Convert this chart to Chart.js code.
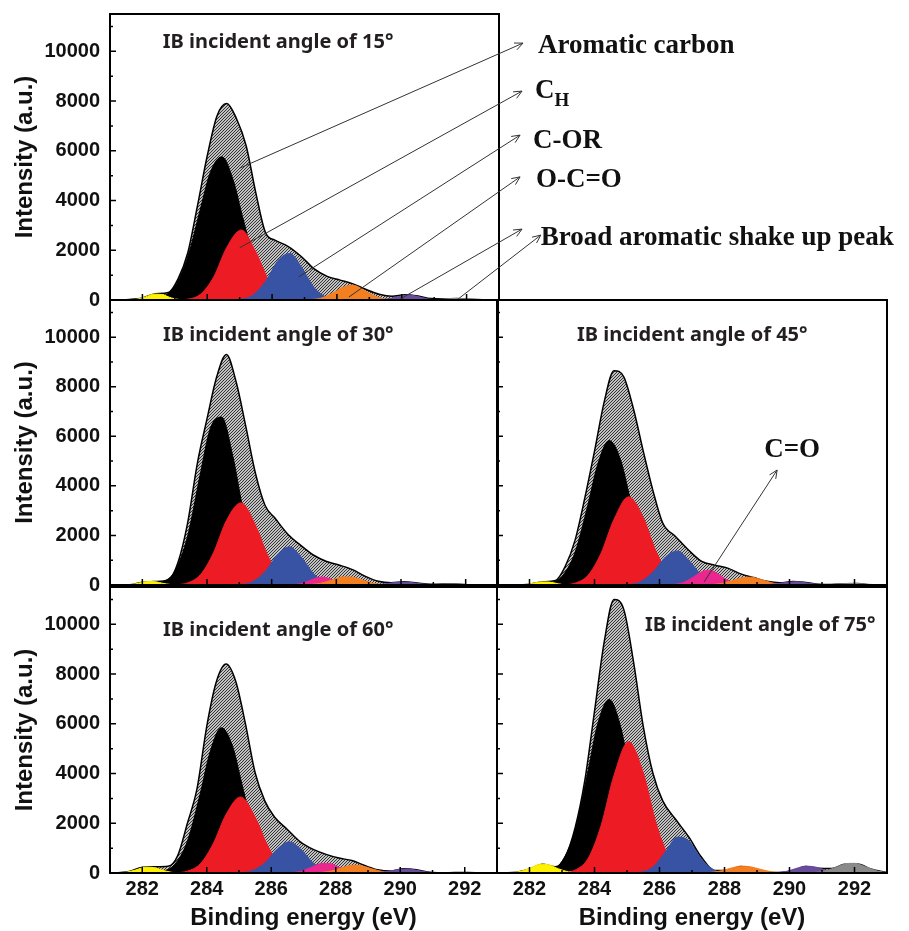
<!DOCTYPE html>
<html>
<head>
<meta charset="utf-8">
<script src="https://cdn.jsdelivr.net/npm/chart.js@4.4.1/dist/chart.umd.min.js"></script>
<style>
  html, body { margin: 0; padding: 0; background: #fff; }
  #page { position: relative; width: 909px; height: 931px; overflow: hidden; background: #fff; }
  canvas { position: absolute; }
</style>
</head>
<body>
<div id="page">
  <canvas id="p15" width="909" height="315" style="left:0;top:0"></canvas>
  <canvas id="p30" width="505" height="305" style="left:0;top:298px"></canvas>
  <canvas id="p45" width="400" height="305" style="left:490px;top:298px"></canvas>
  <canvas id="p60" width="505" height="347" style="left:0;top:584px"></canvas>
  <canvas id="p75" width="400" height="347" style="left:490px;top:584px"></canvas>
</div>
<script>
// tick labels
const energyTicks = [282, 284, 286, 288, 290, 292];
const intensityTicks = [0, 2000, 4000, 6000, 8000, 10000];

// one entry per panel, in this order
const angles = [15, 30, 45, 60, 75];

// fitted envelope (hatched)
const envelopeE = [281.2, 281.6, 282.0, 282.4, 282.8, 283.1, 283.4, 283.7, 284.0, 284.3, 284.6, 284.9, 285.2, 285.5, 285.8, 286.1,
                   286.5, 286.9, 287.3, 287.7, 288.1, 288.5, 288.9, 289.3, 289.7, 290.1, 290.5, 290.9, 291.3, 291.7, 292.1, 292.5, 293.0];
const envelopeI = [
  [0, 20, 80, 250, 300, 850, 1900, 3800, 5800, 7400, 7900, 7300, 6200, 4300, 2700, 2400, 2150, 1750, 1250, 950, 800, 650, 420, 230, 150, 210, 160, 60, 50, 60, 30, 10, 0],
  [0, 10, 110, 140, 200, 900, 2500, 4900, 6700, 8400, 9300, 8200, 6400, 4500, 3200, 2700, 2050, 1600, 1200, 950, 800, 620, 350, 150, 90, 130, 80, 30, 40, 40, 10, 0, 0],
  [0, 0, 30, 130, 180, 750, 1800, 3500, 5400, 7400, 8650, 8400, 7100, 5400, 3800, 2500, 1950, 1400, 950, 800, 680, 450, 300, 150, 90, 140, 100, 30, 20, 50, 60, 10, 0],
  [0, 60, 230, 250, 270, 700, 2000, 3400, 5900, 7700, 8400, 7700, 6000, 4030, 2900, 2250, 1750, 1250, 950, 750, 600, 500, 300, 130, 80, 170, 130, 30, 10, 20, 20, 5, 0],
  [0, 30, 160, 350, 250, 650, 1800, 3700, 6500, 9300, 11000, 10600, 8500, 5900, 4000, 2900, 2150, 1450, 620, 100, 100, 260, 180, 30, 20, 90, 260, 190, 180, 350, 360, 160, 20]
];

// aromatic carbon (black)
const aromaticE = [282.3, 282.6, 283.0, 283.4, 283.8, 284.1, 284.45, 284.8, 285.1, 285.5, 285.9, 286.3, 286.7];
const aromaticI = [
  [0, 120, 550, 1740, 3720, 5150, 5760, 4820, 3290, 1410, 415, 85, 0],
  [0, 100, 550, 1970, 4520, 6310, 6780, 5190, 3150, 1090, 245, 35, 0],
  [0, 60, 350, 1310, 3250, 4870, 5830, 5060, 3470, 1470, 410, 75, 0],
  [0, 55, 340, 1280, 3200, 4850, 5840, 5100, 3520, 1500, 420, 80, 0],
  [0, 85, 470, 1700, 4100, 6000, 6980, 5900, 3980, 1620, 440, 80, 0]
];

// C_H (red)
const chE = [283.0, 283.4, 283.8, 284.2, 284.6, 285.05, 285.5, 285.9, 286.3, 286.7, 287.1];
const chI = [
  [0, 35, 240, 930, 2110, 2815, 1930, 780, 190, 25, 0],
  [0, 85, 420, 1300, 2600, 3315, 2410, 1130, 340, 65, 0],
  [0, 75, 390, 1280, 2650, 3560, 2720, 1340, 420, 85, 0],
  [0, 75, 370, 1180, 2360, 3060, 2250, 1070, 325, 65, 0],
  [0, 115, 580, 1900, 3930, 5280, 4030, 1980, 620, 125, 0]
];

// C-OR (blue)
const corE = [284.7, 285.0, 285.4, 285.8, 286.2, 286.55, 286.9, 287.3, 287.7, 288.1];
const corI = [
  [0, 25, 185, 750, 1615, 1870, 1330, 490, 95, 0],
  [0, 15, 125, 545, 1255, 1540, 1150, 455, 95, 0],
  [0, 15, 120, 520, 1150, 1375, 1000, 385, 80, 0],
  [0, 10, 90, 405, 980, 1250, 980, 405, 90, 0],
  [0, 0, 30, 240, 885, 1445, 1295, 545, 105, 0]
];

// C=O (magenta)
const coE = [286.3, 286.7, 287.0, 287.3, 287.55, 287.8, 288.1, 288.4, 288.8];
const coI = [
  [0, 0, 0, 0, 0, 0, 0, 0, 0],
  [0, 15, 90, 245, 320, 255, 95, 20, 0],
  [0, 85, 285, 535, 595, 445, 190, 45, 0],
  [0, 20, 100, 260, 380, 380, 225, 75, 0],
  [0, 0, 0, 0, 0, 0, 0, 0, 0]
];

// O-C=O (orange)
const ocoE = [287.0, 287.5, 287.9, 288.2, 288.5, 288.8, 289.1, 289.5, 290.0];
const ocoI = [
  [0, 70, 300, 525, 595, 430, 200, 35, 0],
  [0, 65, 215, 325, 315, 200, 80, 10, 0],
  [0, 10, 60, 160, 280, 315, 230, 75, 0],
  [0, 15, 95, 215, 310, 290, 175, 45, 0],
  [0, 15, 90, 195, 275, 250, 150, 35, 0]
];

// shake up peaks (purple, gray)
const shakeE = [289.2, 289.6, 289.9, 290.2, 290.5, 290.8, 291.1, 291.5, 291.9];
const shakeI = [
  [0, 45, 140, 200, 140, 45, 5, 0, 0],
  [0, 60, 110, 115, 65, 25, 5, 0, 0],
  [0, 50, 105, 130, 90, 35, 8, 0, 0],
  [0, 60, 130, 160, 110, 45, 10, 0, 0],
  [0, 15, 65, 180, 275, 240, 120, 20, 0]
];
const shake2E = [290.6, 291.0, 291.4, 291.7, 292.0, 292.3, 292.7, 293.0];
const shake2I = [
  [0, 15, 50, 60, 40, 15, 0, 0],
  [0, 15, 35, 40, 25, 10, 0, 0],
  [0, 10, 35, 55, 60, 40, 10, 0],
  [0, 5, 15, 20, 20, 12, 5, 0],
  [0, 55, 215, 365, 390, 270, 80, 20]
];

// low energy peak (yellow)
const lowE = [281.2, 281.5, 281.8, 282.1, 282.35, 282.6, 282.9, 283.2, 283.5];
const lowI = [
  [0, 0, 25, 125, 235, 220, 80, 10, 0],
  [0, 0, 50, 135, 140, 75, 15, 0, 0],
  [0, 0, 10, 65, 125, 120, 45, 5, 0],
  [0, 30, 125, 230, 220, 125, 30, 0, 0],
  [0, 18, 90, 245, 352, 325, 165, 45, 0]
];

const colors = {
  aromatic: '#000000', ch: '#ed1c24', cor: '#3853a4', co: '#ec268f',
  oco: '#f47f20', shake: '#6a4c9c', shake2: '#8a8a8a', low: '#fff200'
};

// panel title anchors (left, middle) in data units
const titleAt = [[282.63, 10370], [282.64, 10090], [283.46, 10090], [282.64, 9770], [285.55, 9970]];

// peak labels of the 15° panel, positions in its data units
const labels15 = [
  { text: 'Aromatic carbon', from: [285.0, 5300], to: [293.74, 10330], at: [294.2, 9930] },
  { text: 'C', sub: 'H', from: [285.0, 2100], to: [293.71, 8400], at: [294.11, 8120] },
  { text: 'C-OR', from: [286.82, 930], to: [293.65, 6630], at: [294.05, 6110] },
  { text: 'O-C=O', from: [288.37, 120], to: [293.65, 4950], at: [294.14, 4540] },
  { text: 'Broad aromatic shake up peak', from: [289.9, 0], to: [293.71, 2850], at: [294.29, 2210] },
  { from: [291.7, 0], to: [294.29, 2610] }
];
const labels45 = [
  { text: 'C=O', center: true, from: [287.37, 120], to: [289.62, 4640], at: [290.08, 5430] }
];

const SANS = "'Liberation Sans', Arial, sans-serif";
const SERIF = "'Liberation Serif', 'Times New Roman', serif";
Chart.defaults.font.family = SANS;

function hatch() {
  const c = document.createElement('canvas');
  c.width = 3; c.height = 3;
  const g = c.getContext('2d');
  g.fillStyle = '#fff';
  g.fillRect(0, 0, 3, 3);
  g.strokeStyle = '#2a2a2a';
  g.lineWidth = 1.1;
  g.beginPath();
  g.moveTo(0, 3); g.lineTo(3, 0);
  g.moveTo(-1, 1); g.lineTo(1, -1);
  g.moveTo(2, 4); g.lineTo(4, 2);
  g.stroke();
  return g.createPattern(c, 'repeat');
}
const hatchFill = hatch();

function pts(E, I) {
  return E.map((e, i) => ({ x: e, y: I[i] }));
}

function comp(E, I, color) {
  return {
    data: pts(E, I),
    backgroundColor: color,
    borderColor: color,
    borderWidth: 1,
    fill: 'origin',
    pointRadius: 0,
    cubicInterpolationMode: 'monotone'
  };
}

const framePlugin = {
  id: 'frame',
  afterDatasetsDraw(chart) {
    const { ctx, chartArea: a, scales: { x, y } } = chart;
    ctx.save();
    ctx.strokeStyle = '#000';
    ctx.lineWidth = 1.5;
    ctx.beginPath();
    intensityTicks.forEach(v => {
      let py = y.getPixelForValue(v);
      ctx.moveTo(a.left, py); ctx.lineTo(a.left + 6, py);
      py = y.getPixelForValue(v + 1000);
      if (py > a.top) { ctx.moveTo(a.left, py); ctx.lineTo(a.left + 3, py); }
    });
    energyTicks.forEach(v => {
      let px = x.getPixelForValue(v);
      ctx.moveTo(px, a.bottom); ctx.lineTo(px, a.bottom - 6);
      px = x.getPixelForValue(v - 1);
      ctx.moveTo(px, a.bottom); ctx.lineTo(px, a.bottom - 3);
    });
    ctx.stroke();
    ctx.lineWidth = 2;
    ctx.strokeRect(a.left, a.top, a.width, a.height);
    ctx.restore();
  }
};

function arrow(ctx, x1, y1, x2, y2) {
  const ang = Math.atan2(y2 - y1, x2 - x1), h = 9, w = 0.42;
  ctx.beginPath();
  ctx.moveTo(x1, y1);
  ctx.lineTo(x2, y2);
  ctx.moveTo(x2 - h * Math.cos(ang - w), y2 - h * Math.sin(ang - w));
  ctx.lineTo(x2, y2);
  ctx.lineTo(x2 - h * Math.cos(ang + w), y2 - h * Math.sin(ang + w));
  ctx.stroke();
}

function notesPlugin(k, labels) {
  return {
    id: 'notes',
    afterDraw(chart) {
      const { ctx, scales: { x, y } } = chart;
      const P = (p) => [x.getPixelForValue(p[0]), y.getPixelForValue(p[1])];
      ctx.save();
      const [tx, ty] = P(titleAt[k]);
      ctx.font = "bold 20px 'Noto Sans', sans-serif";
      ctx.fillStyle = '#231f20';
      ctx.textBaseline = 'middle';
      ctx.fillText('IB incident angle of ' + angles[k] + '°', tx, ty);

      ctx.strokeStyle = '#333';
      ctx.lineWidth = 1;
      labels.forEach(l => {
        const [x1, y1] = P(l.from), [x2, y2] = P(l.to);
        arrow(ctx, x1, y1, x2, y2);
        if (!l.text) return;
        const [lx, ly] = P(l.at);
        ctx.fillStyle = '#111';
        ctx.font = 'bold 27px ' + SERIF;
        ctx.textBaseline = l.center ? 'middle' : 'alphabetic';
        ctx.textAlign = l.center ? 'center' : 'left';
        ctx.fillText(l.text, lx, ly);
        if (l.sub) {
          const w = ctx.measureText(l.text).width;
          ctx.font = 'bold 19px ' + SERIF;
          ctx.fillText(l.sub, lx + w, ly + 8);
        }
      });
      ctx.restore();
    }
  };
}

function panel(id, k, opt) {
  const datasets = [
    comp(lowE, lowI[k], colors.low),
    comp(shake2E, shake2I[k], colors.shake2),
    comp(shakeE, shakeI[k], colors.shake),
    comp(ocoE, ocoI[k], colors.oco),
    comp(coE, coI[k], colors.co),
    comp(corE, corI[k], colors.cor),
    comp(chE, chI[k], colors.ch),
    comp(aromaticE, aromaticI[k], colors.aromatic),
    {
      data: pts(envelopeE, envelopeI[k]),
      backgroundColor: hatchFill,
      borderColor: '#000',
      borderWidth: 1.5,
      fill: 'origin',
      pointRadius: 0,
      cubicInterpolationMode: 'monotone'
    }
  ];
  const tickFont = { family: SANS, size: 20, weight: 'bold' };
  return new Chart(document.getElementById(id), {
    type: 'line',
    data: { datasets },
    options: {
      responsive: false,
      animation: false,
      devicePixelRatio: 1,
      layout: { padding: opt.pad },
      plugins: { legend: { display: false }, tooltip: { enabled: false } },
      scales: {
        x: {
          type: 'linear', min: 281, max: 293, display: opt.showX,
          afterBuildTicks: s => { s.ticks = energyTicks.map(v => ({ value: v })); },
          afterFit: s => { s.height = opt.showX ? 58 : 0; s.paddingLeft = 0; s.paddingRight = 0; },
          grid: { display: false, drawTicks: false }, border: { display: false },
          ticks: { color: '#111', font: tickFont, padding: 4, maxRotation: 0, autoSkip: false, callback: v => String(v) },
          title: {
            display: true, text: 'Binding energy (eV)', color: '#111',
            font: { family: SANS, size: 24, weight: 'bold', lineHeight: 1 },
            padding: { top: 0, bottom: 1 }
          }
        },
        y: {
          type: 'linear', min: 0, max: 11500, display: opt.showY,
          afterBuildTicks: s => { s.ticks = intensityTicks.map(v => ({ value: v })); },
          afterFit: s => { s.width = opt.showY ? 110 : 0; s.paddingTop = 0; s.paddingBottom = 0; },
          grid: { display: false, drawTicks: false }, border: { display: false },
          ticks: { color: '#111', font: tickFont, padding: 10, callback: v => String(v) },
          title: {
            display: true, text: 'Intensity (a.u.)', color: '#111',
            font: { family: SANS, size: 24, weight: 'bold', lineHeight: 1 },
            padding: { top: 13, bottom: 0 }
          }
        }
      }
    },
    plugins: [framePlugin, notesPlugin(k, opt.labels || [])]
  });
}

panel('p15', 0, { showX: false, showY: true, pad: { left: 0, top: 14, right: 410, bottom: 15 }, labels: labels15 });
panel('p30', 1, { showX: false, showY: true, pad: { left: 0, top: 2, right: 7, bottom: 18 } });
panel('p45', 2, { showX: false, showY: false, pad: { left: 7, top: 2, right: 3, bottom: 18 }, labels: labels45 });
panel('p60', 3, { showX: true, showY: true, pad: { left: 0, top: 3, right: 8, bottom: 0 } });
panel('p75', 4, { showX: true, showY: false, pad: { left: 7, top: 3, right: 3, bottom: 0 } });
</script>
</body>
</html>
